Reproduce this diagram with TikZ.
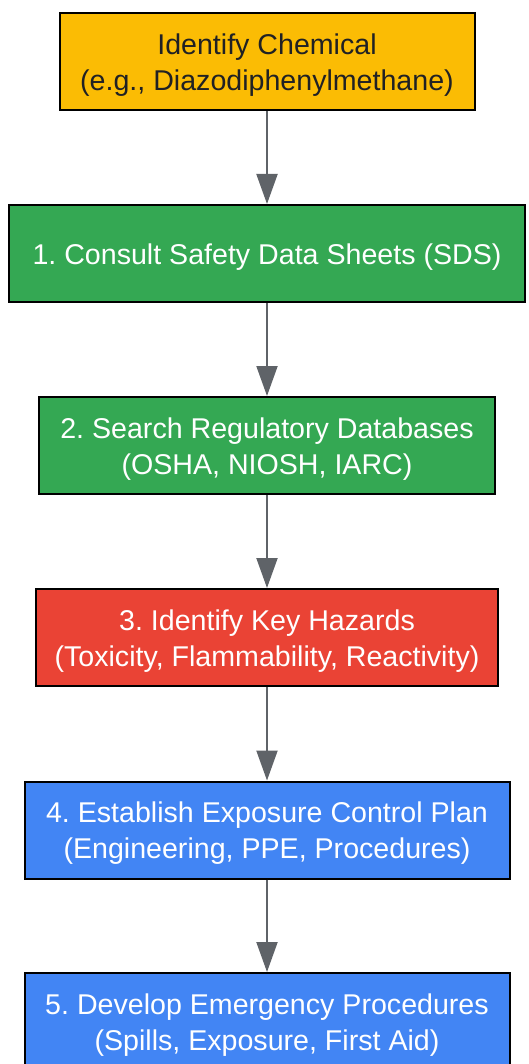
\documentclass[tikz,border=0pt]{standalone}
\usepackage{fontspec}
\setmainfont{Liberation Sans}
\usetikzlibrary{arrows.meta}
\definecolor{cyellow}{HTML}{FBBC04}
\definecolor{cgreen}{HTML}{34A853}
\definecolor{cred}{HTML}{EA4335}
\definecolor{cblue}{HTML}{4285F4}
\definecolor{carrow}{HTML}{5F6368}
\definecolor{cdark}{HTML}{202124}
\frenchspacing
\newcommand\firstln{\rule{0pt}{27.6pt}}
\tikzset{
  box/.style={draw=black, line width=2pt, rectangle, minimum height=97pt, align=center, inner sep=0pt,
    font=\fontsize{28.6}{36}\selectfont\frenchspacing},
  ybox/.style={box, fill=cyellow, text=cdark},
  gbox/.style={box, fill=cgreen, text=white},
  rbox/.style={box, fill=cred, text=white},
  bbox/.style={box, fill=cblue, text=white},
  arr/.style={draw=carrow, line width=2pt, -{Triangle[width=21pt,length=30pt]}}
}
\begin{document}
\begin{tikzpicture}[x=1pt,y=-1pt]
\useasboundingbox (0,0) rectangle (529,1064);
\node[ybox, minimum width=415pt] (a) at (267,61.5) {\firstln Identify Chemical\\(e.g., Diazodiphenylmethane)};
\node[gbox, minimum width=516pt] (b) at (267,253.5) {\firstln 1. Consult Safety Data Sheets (SDS)};
\node[gbox, minimum width=456pt] (c) at (267,445.5) {\firstln 2. Search Regulatory Databases\\(OSHA, NIOSH, IARC)};
\node[rbox, minimum width=462pt] (d) at (267,637.5) {\firstln 3. Identify Key Hazards\\(Toxicity, Flammability, Reactivity)};
\node[bbox, minimum width=485pt] (e) at (267,830) {\firstln 4. Establish Exposure Control Plan\\(Engineering, PPE, Procedures)};
\node[bbox, minimum width=485pt] (f) at (267,1021.5) {\firstln 5. Develop Emergency Procedures\\(Spills, Exposure, First Aid)};
\draw[arr] (a.south) -- (b.north);
\draw[arr] (b.south) -- (c.north);
\draw[arr] (c.south) -- (d.north);
\draw[arr] (d.south) -- (e.north);
\draw[arr] (e.south) -- (f.north);
\end{tikzpicture}
\end{document}
